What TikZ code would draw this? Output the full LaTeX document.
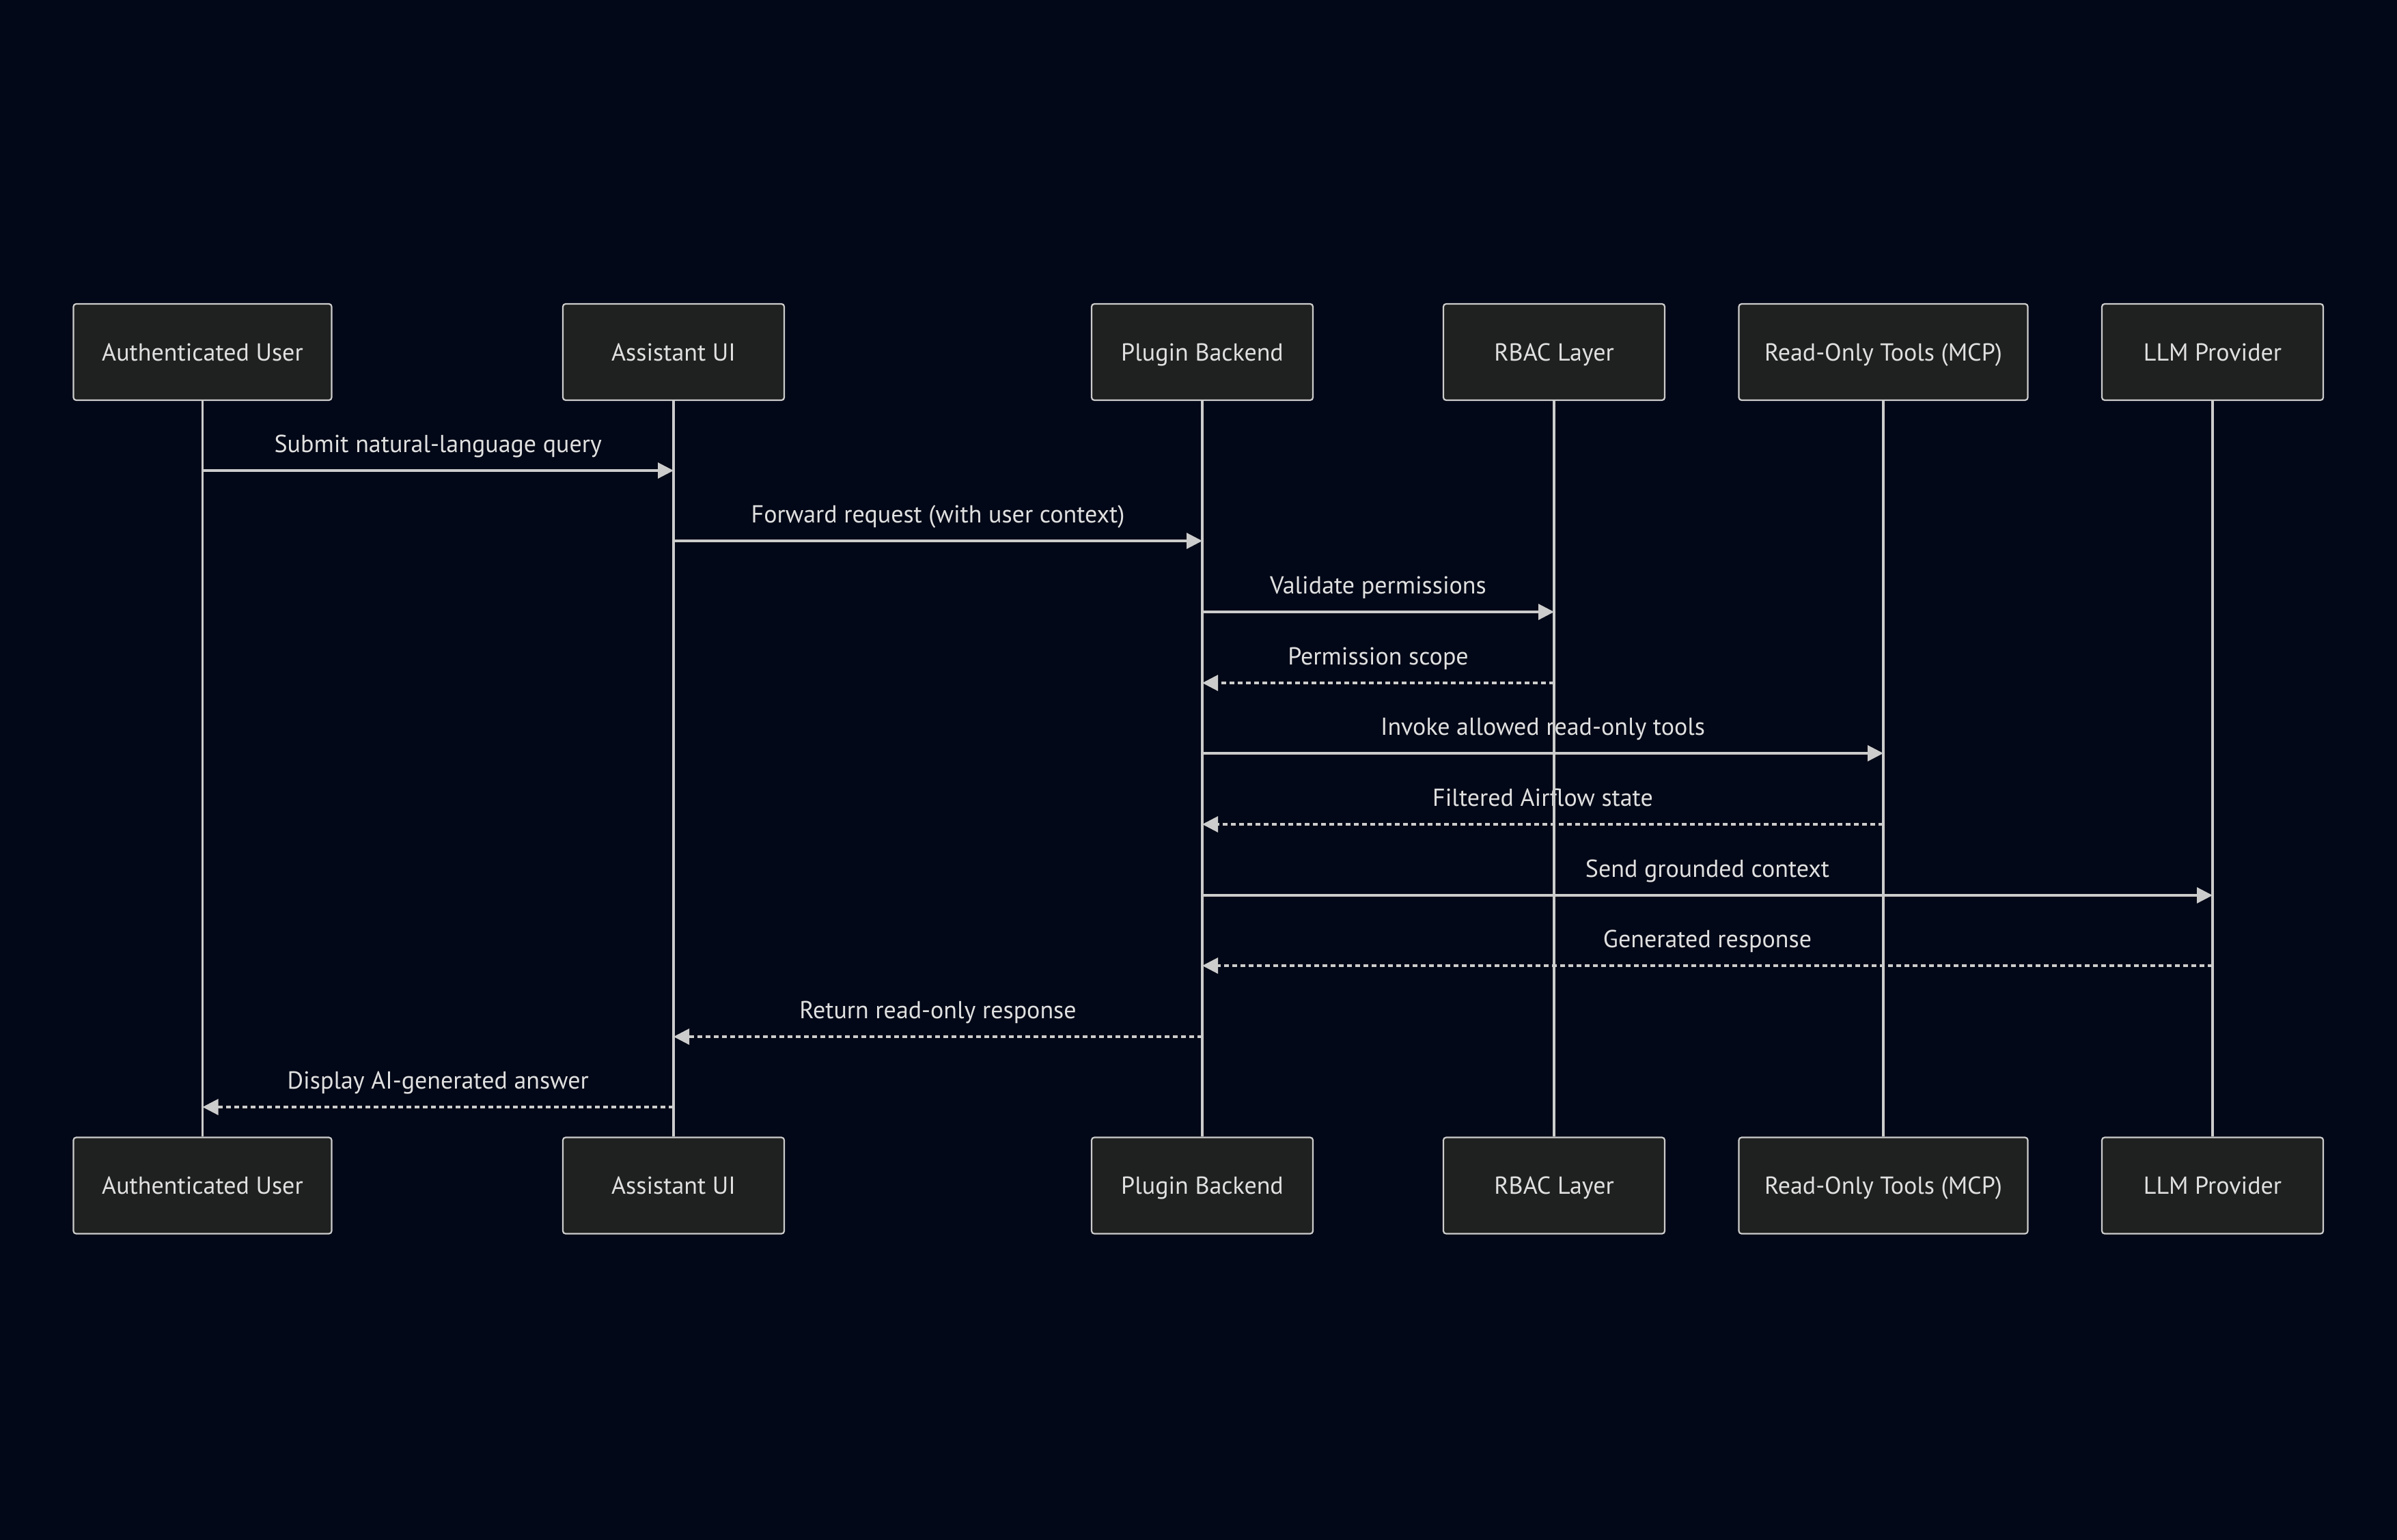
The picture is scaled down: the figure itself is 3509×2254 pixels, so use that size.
\documentclass[tikz,border=0pt]{standalone}
\usepackage{fontspec}
\setmainfont{PT Sans}
\usetikzlibrary{arrows.meta}
\definecolor{bgc}{HTML}{020817}
\definecolor{boxfill}{HTML}{1F2020}
\definecolor{linec}{HTML}{CCCCCC}
\definecolor{txtc}{HTML}{E0E0E0}
\begin{document}
\begin{tikzpicture}[x=1pt,y=-1pt,
  actor/.style={draw=linec, line width=2.2pt, fill=boxfill, rounded corners=4pt,
    minimum height=141pt, inner sep=0pt, text=txtc, text height=25pt, text depth=0pt,
    font=\fontsize{36}{42}\selectfont},
  life/.style={draw=linec, line width=3.2pt},
  msg/.style={draw=linec, line width=3.2pt, -{Triangle[length=23pt,width=23pt]}},
  reply/.style={msg, dash pattern=on 7pt off 5pt},
  lbl/.style={text=txtc, anchor=base, inner sep=0pt, font=\fontsize{36}{42}\selectfont}]
\useasboundingbox (0,0) rectangle (3509,2254);
\fill[bgc] (-20,-20) rectangle (3529,2274);
% top actors
\node[actor, minimum width=378pt] (AUt) at (296.5,515.5) {Authenticated User};
\node[actor, minimum width=324pt] (UIt) at (986,515.5) {Assistant UI};
\node[actor, minimum width=324pt] (PBt) at (1760,515.5) {Plugin Backend};
\node[actor, minimum width=324pt] (RBt) at (2275,515.5) {RBAC Layer};
\node[actor, minimum width=423pt] (TOt) at (2757,515.5) {Read-Only Tools (MCP)};
\node[actor, minimum width=324pt] (LLt) at (3239,515.5) {LLM Provider};
% bottom actors
\node[actor, minimum width=378pt] (AUb) at (296.5,1736) {Authenticated User};
\node[actor, minimum width=324pt] (UIb) at (986,1736) {Assistant UI};
\node[actor, minimum width=324pt] (PBb) at (1760,1736) {Plugin Backend};
\node[actor, minimum width=324pt] (RBb) at (2275,1736) {RBAC Layer};
\node[actor, minimum width=423pt] (TOb) at (2757,1736) {Read-Only Tools (MCP)};
\node[actor, minimum width=324pt] (LLb) at (3239,1736) {LLM Provider};
% message rows
\coordinate (r1) at (0,689);
\coordinate (r2) at (0,792);
\coordinate (r3) at (0,896);
\coordinate (r4) at (0,1000);
\coordinate (r5) at (0,1103);
\coordinate (r6) at (0,1207);
\coordinate (r7) at (0,1311);
\coordinate (r8) at (0,1414);
\coordinate (r9) at (0,1518);
\coordinate (r10) at (0,1621);
% labels
\path (AUt |- r1) -- (UIt |- r1) node[midway, yshift=27pt, lbl] {Submit natural-language query};
\path (UIt |- r2) -- (PBt |- r2) node[midway, yshift=27pt, lbl] {Forward request (with user context)};
\path (PBt |- r3) -- (RBt |- r3) node[midway, yshift=27pt, lbl] {Validate permissions};
\path (RBt |- r4) -- (PBt |- r4) node[midway, yshift=27pt, lbl] {Permission scope};
\path (PBt |- r5) -- (TOt |- r5) node[midway, yshift=27pt, lbl] {Invoke allowed read-only tools};
\path (TOt |- r6) -- (PBt |- r6) node[midway, yshift=27pt, lbl] {Filtered Airflow state};
\path (PBt |- r7) -- (LLt |- r7) node[midway, yshift=27pt, lbl] {Send grounded context};
\path (LLt |- r8) -- (PBt |- r8) node[midway, yshift=27pt, lbl] {Generated response};
\path (PBt |- r9) -- (UIt |- r9) node[midway, yshift=27pt, lbl] {Return read-only response};
\path (UIt |- r10) -- (AUt |- r10) node[midway, yshift=27pt, lbl] {Display AI-generated answer};
% lifelines
\draw[life] (AUt.south) -- (AUb.north);
\draw[life] (UIt.south) -- (UIb.north);
\draw[life] (PBt.south) -- (PBb.north);
\draw[life] (RBt.south) -- (RBb.north);
\draw[life] (TOt.south) -- (TOb.north);
\draw[life] (LLt.south) -- (LLb.north);
% messages
\draw[msg] (AUt |- r1) -- (UIt |- r1);
\draw[msg] (UIt |- r2) -- (PBt |- r2);
\draw[msg] (PBt |- r3) -- (RBt |- r3);
\draw[reply] (RBt |- r4) -- (PBt |- r4);
\draw[msg] (PBt |- r5) -- (TOt |- r5);
\draw[reply] (TOt |- r6) -- (PBt |- r6);
\draw[msg] (PBt |- r7) -- (LLt |- r7);
\draw[reply] (LLt |- r8) -- (PBt |- r8);
\draw[reply] (PBt |- r9) -- (UIt |- r9);
\draw[reply] (UIt |- r10) -- (AUt |- r10);
\end{tikzpicture}
\end{document}
